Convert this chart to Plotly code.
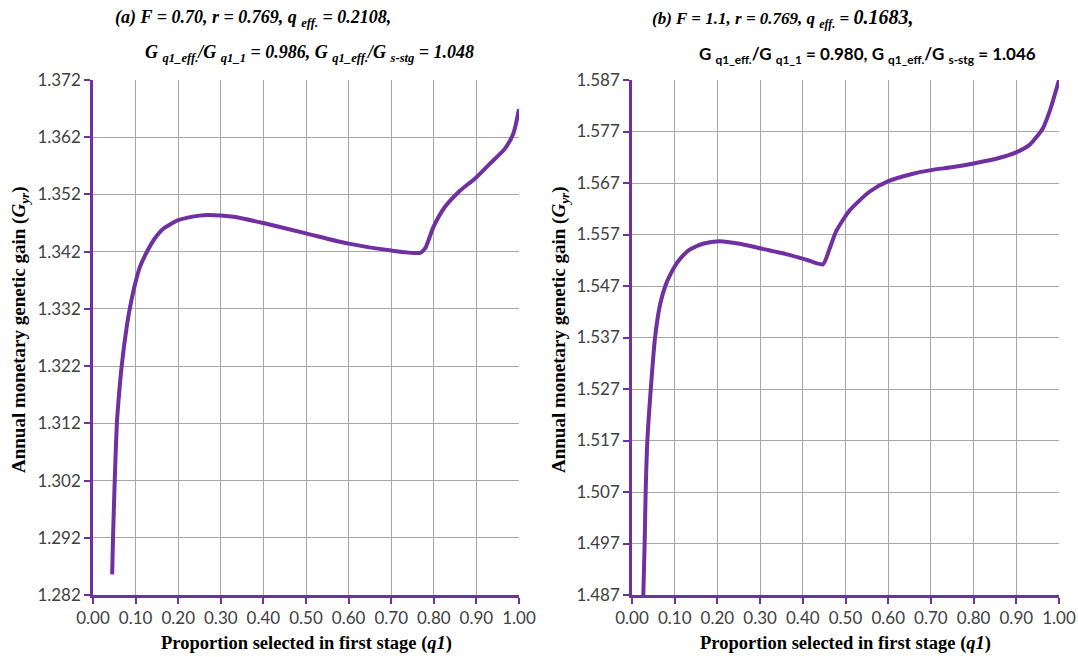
import plotly.graph_objects as go

# ---- data ----
q1_a = [0.045, 0.047, 0.051, 0.056, 0.060, 0.067, 0.079, 0.087, 0.099, 0.110, 0.126,
        0.145, 0.165, 0.200, 0.250, 0.270, 0.330, 0.400, 0.500, 0.600, 0.700, 0.768,
        0.780, 0.799, 0.826, 0.862, 0.897, 0.932, 0.967, 0.987, 1.000]
gyr_a = [1.2856, 1.2920, 1.3020, 1.3120, 1.3160, 1.3218, 1.3288, 1.3323, 1.3364, 1.3393, 1.3419,
         1.3443, 1.3460, 1.3475, 1.3483, 1.3484, 1.3481, 1.3470, 1.3452, 1.3434, 1.3422, 1.3418,
         1.3426, 1.3463, 1.3498, 1.3527, 1.3548, 1.3574, 1.3600, 1.3627, 1.3669]

q1_b = [0.025, 0.0265, 0.0296, 0.032, 0.036, 0.044, 0.054, 0.066, 0.078, 0.092, 0.110, 0.134,
        0.166, 0.205, 0.252, 0.306, 0.361, 0.408, 0.447, 0.4625, 0.478, 0.509, 0.556, 0.599,
        0.658, 0.700, 0.752, 0.800, 0.853, 0.901, 0.931, 0.962, 0.980, 1.000]
gyr_b = [1.4800, 1.4870, 1.4970, 1.5070, 1.5170, 1.5270, 1.5370, 1.5435, 1.5470, 1.5496, 1.5520,
         1.5540, 1.5552, 1.5557, 1.5552, 1.5542, 1.5532, 1.5521, 1.5512, 1.5542, 1.5576, 1.5616,
         1.5653, 1.5673, 1.5688, 1.5695, 1.5701, 1.5708, 1.5717, 1.5730, 1.5744, 1.5776, 1.5814,
         1.5870]

yticks_a = [1.282, 1.292, 1.302, 1.312, 1.322, 1.332, 1.342, 1.352, 1.362, 1.372]
yticks_b = [1.487, 1.497, 1.507, 1.517, 1.527, 1.537, 1.547, 1.557, 1.567, 1.577, 1.587]
xticks = [0.0, 0.1, 0.2, 0.3, 0.4, 0.5, 0.6, 0.7, 0.8, 0.9, 1.0]

W, H = 1078, 657
PURPLE = "#7030A0"
GRID = "#A6A6A6"
SERIF = "Liberation Serif, Times New Roman, serif"
SANS = "Lato, Open Sans, sans-serif"

def px(x):
    return x / W

def py(y):
    return 1 - y / H

top, bottom = 80, 595

fig = go.Figure()
fig.add_trace(go.Scatter(x=q1_a, y=gyr_a, mode="lines",
                         line=dict(color=PURPLE, width=4, shape="spline", smoothing=0.6),
                         xaxis="x", yaxis="y", showlegend=False))
fig.add_trace(go.Scatter(x=q1_b, y=gyr_b, mode="lines",
                         line=dict(color=PURPLE, width=4, shape="spline", smoothing=0.6),
                         xaxis="x2", yaxis="y2", showlegend=False))

xcommon = dict(range=[0, 1], tickvals=xticks, tickformat=".2f", showgrid=True, gridcolor=GRID,
               gridwidth=1, showline=True, linecolor=PURPLE, linewidth=2.5, ticks="outside",
               ticklen=6, tickwidth=2, tickcolor=PURPLE, zeroline=False, automargin=False,
               tickfont=dict(family=SANS, size=17, color="#404040"))
ycommon = dict(tickformat=".3f", showgrid=True, gridcolor=GRID, gridwidth=1, showline=True,
               linecolor=PURPLE, linewidth=2.5, ticks="outside", ticklen=6, tickwidth=2,
               tickcolor=PURPLE, zeroline=False, automargin=False,
               tickfont=dict(family=SANS, size=17, color="#404040"))

fig.update_layout(
    width=W, height=H, autosize=False,
    margin=dict(l=0, r=0, t=0, b=0, autoexpand=False),
    paper_bgcolor="white", plot_bgcolor="white",
    xaxis=dict(domain=[px(93), px(519)], anchor="y", **xcommon),
    yaxis=dict(domain=[py(bottom), py(top)], anchor="x", range=[1.282, 1.372],
               tickvals=yticks_a, **ycommon),
    xaxis2=dict(domain=[px(632), px(1059)], anchor="y2", **xcommon),
    yaxis2=dict(domain=[py(bottom), py(top)], anchor="x2", range=[1.487, 1.587],
                tickvals=yticks_b, **ycommon),
)

ann = []
ytitle = "Annual monetary genetic gain (<i>G<sub>yr</sub></i>)"
xtitle = "Proportion selected in first stage (<i>q1</i>)"
for xc in (20, 560):
    ann.append(dict(text="<b>" + ytitle + "</b>", x=px(xc), y=py(330), xref="paper", yref="paper",
                    textangle=-90, showarrow=False, xanchor="center", yanchor="middle",
                    font=dict(family=SERIF, size=19, color="black")))
for xc in (306, 845):
    ann.append(dict(text="<b>" + xtitle + "</b>", x=px(xc), y=py(643), xref="paper", yref="paper",
                    showarrow=False, xanchor="center", yanchor="middle",
                    font=dict(family=SERIF, size=18.5, color="black")))

# panel titles
ann.append(dict(text="<b><i>(a) F = 0.70, r = 0.769, q <sub>eff.</sub> = 0.2108,</i></b>",
                x=px(113), y=py(18), xref="paper", yref="paper", showarrow=False,
                xanchor="left", yanchor="middle", font=dict(family=SERIF, size=18, color="black")))
ann.append(dict(text="<b><i>G <sub>q1_eff.</sub>/G <sub>q1_1</sub> = 0.986, G <sub>q1_eff.</sub>/G <sub>s-stg</sub> = 1.048</i></b>",
                x=px(143), y=py(53), xref="paper", yref="paper", showarrow=False,
                xanchor="left", yanchor="middle", font=dict(family=SERIF, size=18, color="black")))
ann.append(dict(text="<b><i>(b) F = 1.1, r = 0.769, q <sub>eff.</sub> = <span style='font-size:20px'>0.1683,</span></i></b>",
                x=px(650), y=py(18), xref="paper", yref="paper", showarrow=False,
                xanchor="left", yanchor="middle", font=dict(family=SERIF, size=17, color="black")))
ann.append(dict(text="<b>G <sub>q1_eff.</sub>/G <sub>q1_1</sub> = 0.980, G <sub>q1_eff.</sub>/G <sub>s-stg</sub> = 1.046</b>",
                x=px(697), y=py(55), xref="paper", yref="paper", showarrow=False,
                xanchor="left", yanchor="middle", font=dict(family=SANS, size=17, color="black")))

fig.update_layout(annotations=ann)
fig.write_html("out.html")
